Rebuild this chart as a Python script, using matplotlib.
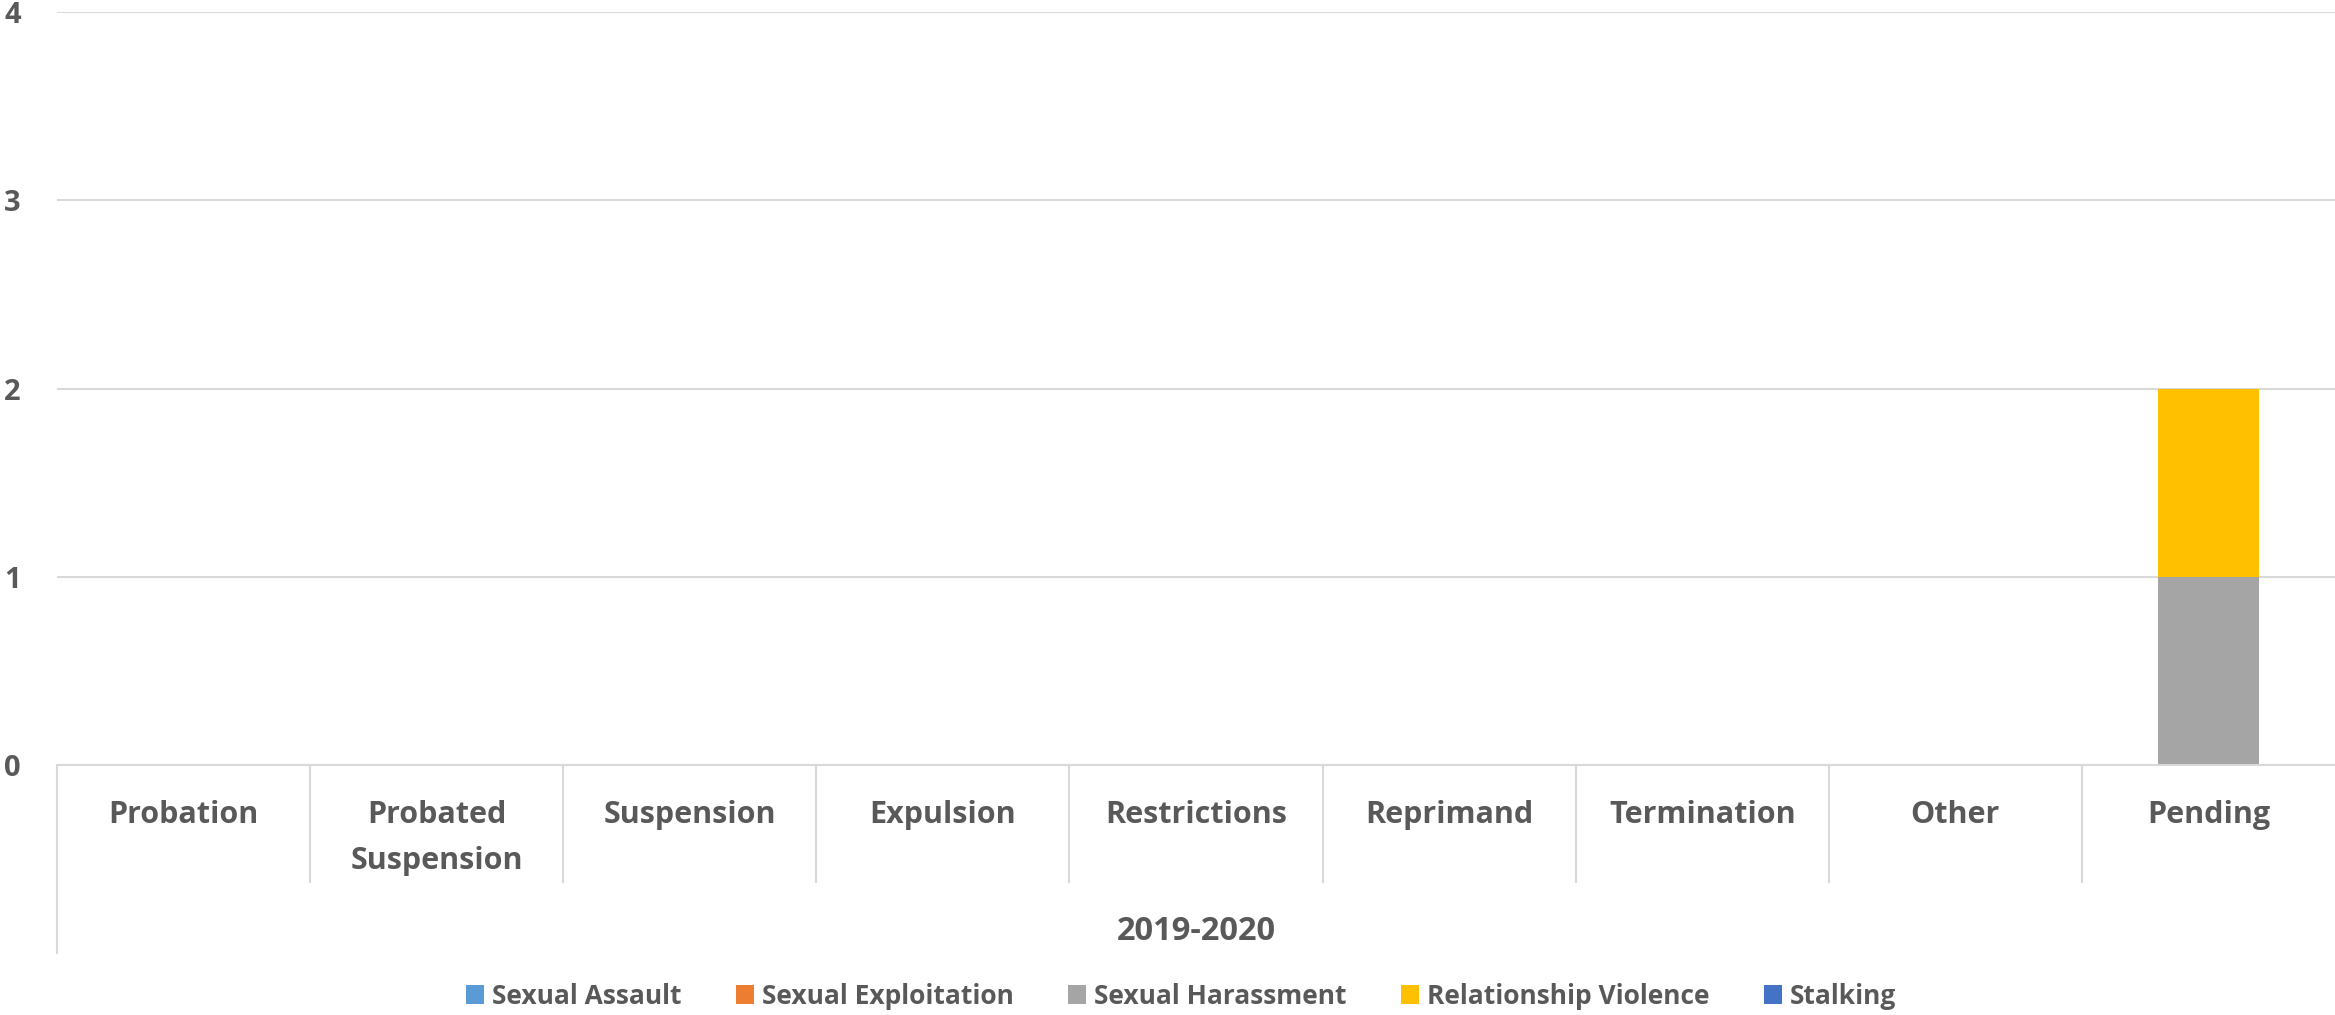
import numpy as np
import matplotlib
matplotlib.use("Agg")
from matplotlib import pyplot as plt
from matplotlib.patches import Patch

# datos del grafico
categorias = ["Probation", "Probated\nSuspension", "Suspension", "Expulsion",
              "Restrictions", "Reprimand", "Termination", "Other", "Pending"]
grupo = "2019-2020"
series = ["Sexual Assault", "Sexual Exploitation", "Sexual Harassment",
          "Relationship Violence", "Stalking"]
sexual_assault = [0, 0, 0, 0, 0, 0, 0, 0, 0]
sexual_exploitation = [0, 0, 0, 0, 0, 0, 0, 0, 0]
sexual_harassment = [0, 0, 0, 0, 0, 0, 0, 0, 1]
relationship_violence = [0, 0, 0, 0, 0, 0, 0, 0, 1]
stalking = [0, 0, 0, 0, 0, 0, 0, 0, 0]
colores = ["#5B9BD5", "#ED7D31", "#A5A5A5", "#FFC000", "#4472C4"]

W, H = 2335, 1015
TXT = "#595959"
GRID = "#D9D9D9"
plt.rcParams['font.family'] = ['Open Sans', 'DejaVu Sans']


def main():
    fig = plt.figure(figsize=(W / 100, H / 100), dpi=100)
    x0, x1 = 57, 2335
    y_top, y_bot = 12, 765
    ax = fig.add_axes([x0 / W, 1 - y_bot / H, (x1 - x0) / W, (y_bot - y_top) / H])

    valores = [sexual_assault, sexual_exploitation, sexual_harassment,
               relationship_violence, stalking]
    x = np.arange(len(categorias))
    base = np.zeros(len(categorias))
    for nombre, vals, c in zip(series, valores, colores):
        vals = np.array(vals, dtype=float)
        ax.bar(x, vals, bottom=base, width=0.40, color=c, label=nombre, zorder=3)
        base = base + vals

    ax.set_xlim(-0.5, len(categorias) - 0.5)
    ax.set_ylim(0, 4)
    ax.set_yticks([0, 1, 2, 3, 4])
    ax.yaxis.grid(True, color=GRID, linewidth=1.5, zorder=0)
    ax.tick_params(axis='y', length=0, pad=26, labelsize=21, labelcolor=TXT)
    for lab in ax.get_yticklabels():
        lab.set_fontweight('bold')
    ax.set_xticks([])
    for s in ax.spines.values():
        s.set_visible(False)

    # eje de categorias multinivel (estilo Excel)
    def fy(py):
        return 1 - py / H

    def fx(px):
        return px / W

    cat_w = (x1 - x0) / len(categorias)
    for i, cat in enumerate(categorias):
        cx = x0 + (i + 0.5) * cat_w
        fig.text(fx(cx), fy(800), cat, ha='center', va='top', fontsize=22,
                 fontweight='bold', color=TXT, linespacing=1.7)
    for i in range(len(categorias)):
        sx = x0 + i * cat_w
        fin = 953 if i == 0 else 882
        fig.add_artist(plt.Line2D([fx(sx), fx(sx)], [fy(y_bot), fy(fin)],
                                  color=GRID, linewidth=1.5))
    fig.add_artist(plt.Line2D([fx(x0), fx(x1)], [fy(y_bot), fy(y_bot)],
                              color=GRID, linewidth=1.5))
    fig.text(fx((x0 + x1) / 2), fy(931), grupo, ha='center', va='center',
             fontsize=23.5, fontweight='bold', color=TXT)

    handles = [Patch(facecolor=c, edgecolor='none') for c in colores]
    fig.legend(handles, series, loc='center', bbox_to_anchor=(fx(1181), fy(996)),
               ncol=5, frameon=False, handlelength=0.7, handleheight=0.7,
               handletextpad=0.3, columnspacing=2.05,
               prop={'size': 19, 'weight': 'bold'}, labelcolor=TXT)

    fig.savefig("out.png", dpi=100, facecolor='white')


if __name__ == "__main__":
    main()
